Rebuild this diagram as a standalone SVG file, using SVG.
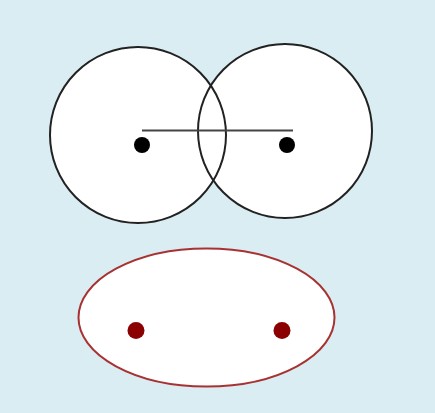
<svg xmlns="http://www.w3.org/2000/svg" width="435" height="413" viewBox="0 0 435 413">
<style>
.c{fill:none;stroke:#222;stroke-width:2}
.f{fill:#fff;stroke:none}
.d{fill:#000}
.rd{fill:#8b0000}
</style>
<rect width="435" height="413" fill="#daedf2"/>
<g id="fills">
<circle class="f" cx="138" cy="135" r="88"/>
<circle class="f" cx="285" cy="131" r="87"/>
</g>
<g id="circleA"><circle class="c" cx="138" cy="135" r="88"/></g>
<g id="circleB"><circle class="c" cx="285" cy="131" r="87"/></g>
<g id="connectors"><line x1="142" y1="130.5" x2="293" y2="130.5" stroke="#444" stroke-width="2"/></g>
<g id="dotA"><circle class="d" cx="142" cy="145" r="8"/></g>
<g id="dotB"><circle class="d" cx="287" cy="145" r="8"/></g>
<g id="ellipse"><ellipse cx="206.5" cy="317.5" rx="128" ry="69" fill="#fff" stroke="#a83232" stroke-width="2"/></g>
<g id="dotC"><circle class="rd" cx="136" cy="330.5" r="8.5"/></g>
<g id="dotD"><circle class="rd" cx="282" cy="330.5" r="8.5"/></g>
</svg>
